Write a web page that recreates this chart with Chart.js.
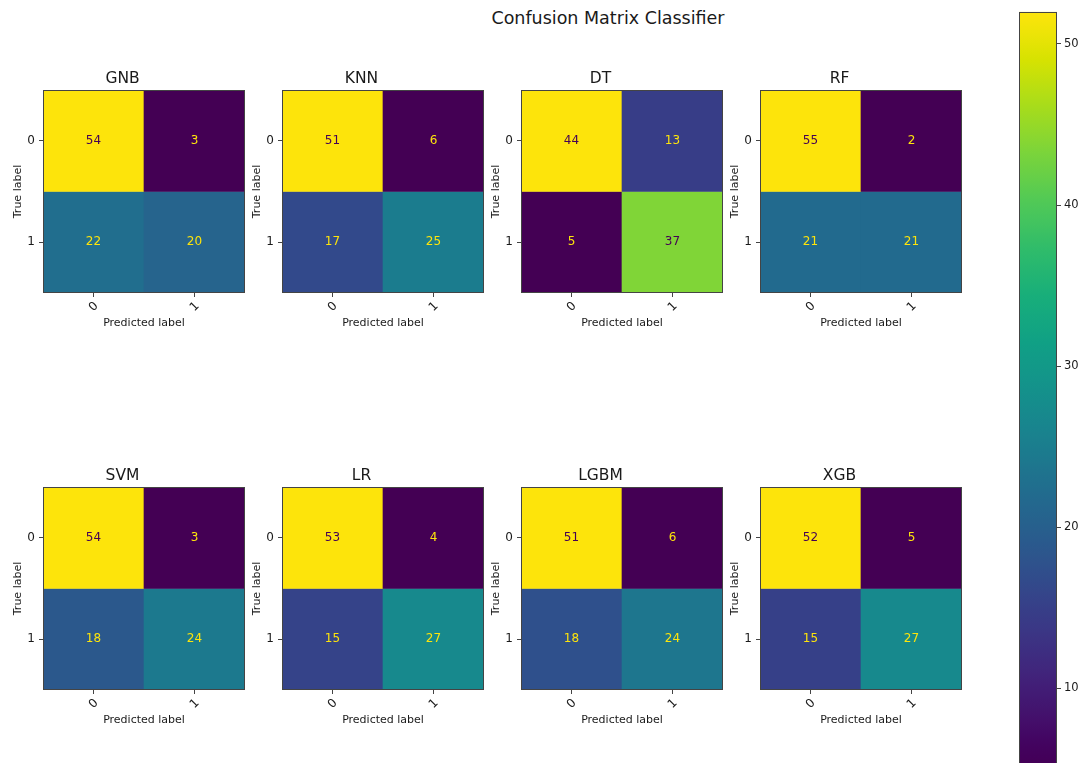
<!DOCTYPE html>
<html>
<head>
<meta charset="utf-8">
<script src="https://cdn.jsdelivr.net/npm/chart.js@4/dist/chart.umd.min.js"></script>
<style>
  html, body { margin: 0; padding: 0; background: #fff; overflow: hidden; }
  body { width: 1081px; height: 763px; position: relative; }
  canvas { position: absolute; }
  #suptitle {
    position: absolute; left: 408px; top: 8px; width: 400px; text-align: center;
    font-family: "DejaVu Sans", sans-serif; font-size: 17.5px; line-height: 21px; color: #1a1a1a;
  }
</style>
</head>
<body>
<div id="suptitle">Confusion Matrix Classifier</div>
<script>
// Confusion matrix counts per classifier: [[tn, fp], [fn, tp]]
const models = ['GNB', 'KNN', 'DT', 'RF', 'SVM', 'LR', 'LGBM', 'XGB'];
const trueNeg  = [54, 51, 44, 55, 54, 53, 51, 52];
const falsePos = [3, 6, 13, 2, 3, 4, 6, 5];
const falseNeg = [22, 17, 5, 21, 18, 15, 18, 15];
const truePos  = [20, 25, 37, 21, 24, 27, 24, 27];
const classLabels = ['0', '1'];
const colorbarTicks = [10, 20, 30, 40, 50];

// Panel geometry (plot box position of each panel)
const boxLeft = [43, 282, 521, 760];
const boxTop = [90, 487];
const boxW = 202, boxH = 203;
const Y_AXIS_W = 43, TITLE_H = 30, X_AXIS_H = 42;

const FONT = '"DejaVu Sans", sans-serif';
const TEXT = '#1a1a1a';
const FRAME = '#444';

// viridis colormap, with a little extra saturation
const VIRIDIS = ['#440154','#48186a','#472d7b','#424086','#3b528b','#33638d','#2c728e','#26828e',
  '#21918c','#1fa088','#28ae80','#3fbc73','#5ec962','#84d44b','#addc30','#d8e219','#fde725'];
function hexRgb(h) { return [1, 3, 5].map(i => parseInt(h.slice(i, i + 2), 16)); }
function boost(rgb) {
  const [r, g, b] = rgb.map(v => v / 255);
  const mx = Math.max(r, g, b), mn = Math.min(r, g, b);
  if (mx === mn) return rgb;
  const s = (mx - mn) / mx;
  const s2 = Math.min(1, s * 1.12);
  return [r, g, b].map(c => Math.round(255 * (mx - (mx - c) * s2 / s)));
}
function viridis(t) {
  t = Math.max(0, Math.min(1, t));
  const p = t * (VIRIDIS.length - 1);
  const i = Math.min(VIRIDIS.length - 2, Math.floor(p));
  const f = p - i;
  const a = hexRgb(VIRIDIS[i]), b = hexRgb(VIRIDIS[i + 1]);
  const c = boost(a.map((v, k) => v + (b[k] - v) * f));
  return `rgb(${c[0]},${c[1]},${c[2]})`;
}

// Frame around the plot area
const framePlugin = {
  id: 'frame',
  afterDraw(chart) {
    const { ctx, chartArea: a } = chart;
    ctx.save();
    ctx.strokeStyle = FRAME;
    ctx.lineWidth = 1;
    ctx.strokeRect(Math.round(a.left) + 0.5, Math.round(a.top) + 0.5,
      Math.round(a.right - a.left) - 1, Math.round(a.bottom - a.top) - 1);
    ctx.restore();
  }
};

// Count written in the middle of each cell
const cellTextPlugin = {
  id: 'cellText',
  afterDatasetsDraw(chart) {
    const { ctx } = chart;
    ctx.save();
    ctx.font = '12px ' + FONT;
    ctx.textAlign = 'center';
    ctx.textBaseline = 'middle';
    chart.data.datasets.forEach((ds, di) => {
      chart.getDatasetMeta(di).data.forEach((bar, j) => {
        ctx.fillStyle = ds.textColors[j];
        ctx.fillText(String(ds.counts[j]), bar.x, (bar.y + bar.base) / 2);
      });
    });
    ctx.restore();
  }
};

function zeroPad(scale) {
  scale.paddingTop = 0; scale.paddingBottom = 0;
  scale.paddingLeft = 0; scale.paddingRight = 0;
}

models.forEach((name, m) => {
  const matrix = [[trueNeg[m], falsePos[m]], [falseNeg[m], truePos[m]]];
  const flat = matrix.flat();
  const vmin = Math.min(...flat), vmax = Math.max(...flat);
  const thresh = (vmin + vmax) / 2;

  const col = m % 4, row = Math.floor(m / 4);
  const cv = document.createElement('canvas');
  const w = Y_AXIS_W + boxW + 1, h = TITLE_H + boxH + X_AXIS_H;
  cv.width = w; cv.height = h;
  cv.style.left = (boxLeft[col] - Y_AXIS_W) + 'px';
  cv.style.top = (boxTop[row] - TITLE_H) + 'px';
  document.body.appendChild(cv);

  const datasets = matrix.map((rowVals, r) => ({
    data: rowVals.map(() => [r - 0.5, r + 0.5]),
    counts: rowVals,
    backgroundColor: rowVals.map(v => viridis((v - vmin) / (vmax - vmin))),
    textColors: rowVals.map(v => v < thresh ? viridis(1) : viridis(0)),
    borderWidth: 0,
    barPercentage: 1,
    categoryPercentage: 1,
    grouped: false
  }));

  new Chart(cv, {
    type: 'bar',
    data: { labels: classLabels, datasets },
    options: {
      responsive: false,
      animation: false,
      devicePixelRatio: 1,
      layout: { padding: { left: 0, right: 1, top: 0, bottom: 0 } },
      plugins: {
        legend: { display: false },
        tooltip: { enabled: false },
        title: {
          display: true, text: name, color: TEXT,
          font: { family: FONT, size: 15.5, weight: 'normal', lineHeight: 1.2 },
          padding: { top: 10, bottom: 1.4 }
        }
      },
      scales: {
        x: {
          type: 'category',
          offset: true,
          grid: { display: true, drawOnChartArea: false, offset: false, drawTicks: true, tickLength: 4, color: FRAME },
          border: { display: false },
          ticks: {
            color: TEXT, font: { family: FONT, size: 12 },
            minRotation: 45, maxRotation: 45, padding: 2, labelOffset: 3
          },
          title: {
            display: true, text: 'Predicted label', color: TEXT,
            font: { family: FONT, size: 11 }, padding: { top: 0, bottom: 5.4 }
          },
          afterFit(s) { s.height = X_AXIS_H; zeroPad(s); }
        },
        y: {
          type: 'linear',
          min: -0.5, max: 1.5, reverse: true,
          grid: { display: true, drawOnChartArea: false, drawTicks: true, tickLength: 4, color: FRAME },
          border: { display: false },
          afterBuildTicks(s) { s.ticks = classLabels.map((_, i) => ({ value: i })); },
          ticks: {
            color: TEXT, font: { family: FONT, size: 12 }, padding: 4,
            callback: v => classLabels[v]
          },
          title: {
            display: true, text: 'True label', color: TEXT,
            font: { family: FONT, size: 11 }, padding: { top: 11.4, bottom: 0 }
          },
          afterFit(s) { s.width = Y_AXIS_W; zeroPad(s); }
        }
      }
    },
    plugins: [framePlugin, cellTextPlugin]
  });
});

// Colour bar for the last panel's scale
(function () {
  const m = models.length - 1;
  const flat = [trueNeg[m], falsePos[m], falseNeg[m], truePos[m]];
  const vmin = Math.min(...flat), vmax = Math.max(...flat);

  const cv = document.createElement('canvas');
  cv.width = 62; cv.height = 780;
  cv.style.left = '1019px';
  cv.style.top = '0px';
  document.body.appendChild(cv);

  function gradient(ctx) {
    const a = ctx.chart.chartArea;
    if (!a) return viridis(0.5);
    const g = ctx.chart.ctx.createLinearGradient(0, a.bottom, 0, a.top);
    for (let i = 0; i <= 64; i++) g.addColorStop(i / 64, viridis(i / 64));
    return g;
  }

  new Chart(cv, {
    type: 'bar',
    data: {
      labels: [''],
      datasets: [{
        data: [[vmin, vmax]],
        backgroundColor: gradient,
        borderWidth: 0,
        barPercentage: 1,
        categoryPercentage: 1
      }]
    },
    options: {
      responsive: false,
      animation: false,
      devicePixelRatio: 1,
      layout: { padding: { left: 0, right: 0, top: 11.8, bottom: 11.5 } },
      plugins: { legend: { display: false }, tooltip: { enabled: false } },
      scales: {
        x: { display: false, offset: true },
        y: {
          type: 'linear', position: 'right',
          min: vmin, max: vmax,
          grid: { display: true, drawOnChartArea: false, drawTicks: true, tickLength: 4, color: FRAME },
          border: { display: false },
          afterBuildTicks(s) { s.ticks = colorbarTicks.map(v => ({ value: v })); },
          ticks: { color: TEXT, font: { family: FONT, size: 11.5 }, padding: 3 },
          afterFit(s) { s.width = 24; zeroPad(s); }
        }
      }
    },
    plugins: [framePlugin]
  });
})();
</script>
</body>
</html>
